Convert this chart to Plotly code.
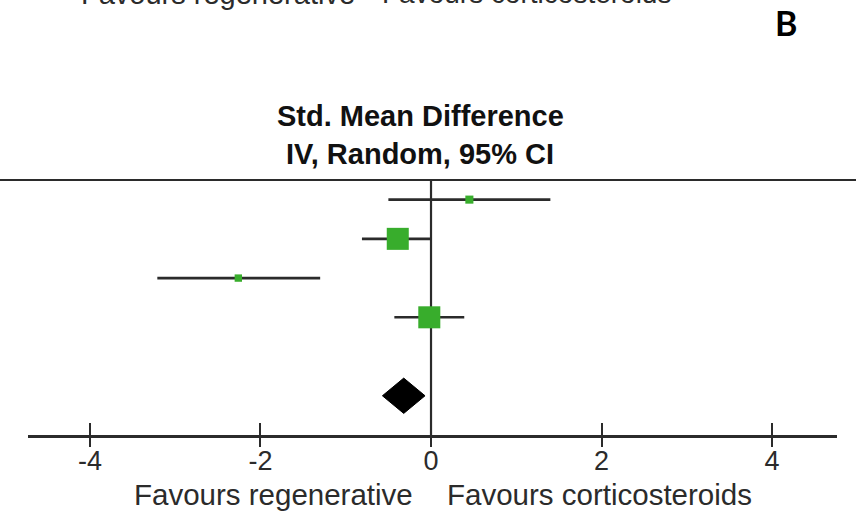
import plotly.graph_objects as go

# Study-level standardised mean differences (IV, random effects, 95% CI)
studies = ["Study 1", "Study 2", "Study 3", "Study 4"]
smd = [0.45, -0.39, -2.26, -0.02]
ci_low = [-0.50, -0.81, -3.21, -0.43]
ci_high = [1.40, -0.01, -1.30, 0.39]
weights = [6.0, 44.5, 5.0, 44.5]  # percent weight of each study

# Pooled estimate
pooled_smd = -0.32
pooled_low = -0.57
pooled_high = -0.07

tick_values = [-4, -2, 0, 2, 4]
tick_labels = ["-4", "-2", "0", "2", "4"]

GREEN = "#38ad2c"
INK = "#2b2b2b"
TEXT_FONT = "Liberation Sans, Arial, sans-serif"

rows = list(range(1, len(studies) + 1))
pooled_row = len(studies) + 2

fig = go.Figure()

# Confidence intervals with weight-scaled squares
fig.add_trace(go.Scatter(
    x=smd,
    y=rows,
    mode="markers",
    marker=dict(symbol="square", color=GREEN, opacity=1,
                size=[3.3 * w ** 0.5 for w in weights],
                line=dict(width=0)),
    error_x=dict(type="data", symmetric=False,
                 array=[h - m for h, m in zip(ci_high, smd)],
                 arrayminus=[m - l for m, l in zip(smd, ci_low)],
                 color=INK, thickness=2.6, width=0),
    hoverinfo="skip",
    showlegend=False,
))

# Pooled diamond
half_h = 0.45
fig.add_trace(go.Scatter(
    x=[pooled_low, pooled_smd, pooled_high, pooled_smd, pooled_low],
    y=[pooled_row, pooled_row - half_h, pooled_row, pooled_row + half_h, pooled_row],
    mode="lines",
    fill="toself",
    fillcolor="#000000",
    line=dict(color="#000000", width=1),
    hoverinfo="skip",
    showlegend=False,
))

# Helper trace so the overlaid tick axis is drawn
fig.add_trace(go.Scatter(x=[0], y=[rows[0]], xaxis="x2", mode="markers",
                         marker=dict(opacity=0), hoverinfo="skip",
                         showlegend=False))

W, H = 856, 511
L, R, T, B = 28, 19, 180, 76
pw, ph = W - L - R, H - T - B


def px(xp):
    return (xp - L) / pw


def py(yp):
    return (H - B - yp) / ph


x_range = [-4.727, 4.762]

axis_common = dict(range=x_range, showgrid=False, zeroline=False,
                   tickvals=tick_values)

fig.update_layout(
    width=W, height=H,
    margin=dict(l=L, r=R, t=T, b=B, pad=0),
    paper_bgcolor="white",
    plot_bgcolor="white",
    xaxis=dict(**axis_common, ticktext=tick_labels,
               showline=True, linecolor=INK, linewidth=2.5,
               ticks="inside", ticklen=12, tickwidth=2, tickcolor=INK,
               tickfont=dict(family=TEXT_FONT, size=27, color=INK)),
    xaxis2=dict(**axis_common, overlaying="x", anchor="y", side="bottom",
                showline=False, showticklabels=False,
                ticks="outside", ticklen=11, tickwidth=2, tickcolor=INK),
    yaxis=dict(range=[7.0, 0.5], visible=False, showgrid=False,
               zeroline=False),
    shapes=[
        # line of no effect
        dict(type="line", xref="x", yref="paper", x0=0, x1=0, y0=0, y1=1,
             line=dict(color=INK, width=2.2), layer="below"),
        # header rule
        dict(type="line", xref="paper", yref="paper",
             x0=px(0), x1=px(W), y0=1, y1=1,
             line=dict(color=INK, width=2.2)),
    ],
    annotations=[
        dict(text="<b>Std. Mean Difference</b>", xref="paper", yref="paper",
             x=px(420), y=py(116), xanchor="center", yanchor="middle",
             showarrow=False,
             font=dict(family=TEXT_FONT, size=29, color="#111111")),
        dict(text="<b>IV, Random, 95% CI</b>", xref="paper", yref="paper",
             x=px(420), y=py(154), xanchor="center", yanchor="middle",
             showarrow=False,
             font=dict(family=TEXT_FONT, size=29, color="#111111")),
        dict(text="Favours regenerative", xref="x", yref="paper",
             x=-0.19, y=py(494), xanchor="right", yanchor="middle",
             showarrow=False,
             font=dict(family=TEXT_FONT, size=29.5, color=INK)),
        dict(text="Favours corticosteroids", xref="x", yref="paper",
             x=0.16, y=py(494), xanchor="left", yanchor="middle",
             showarrow=False,
             font=dict(family=TEXT_FONT, size=29.5, color=INK)),
        # axis captions of the panel above, cut by the frame
        dict(text="Favours regenerative", xref="paper", yref="paper",
             x=px(357), y=py(-6), xanchor="right", yanchor="middle",
             showarrow=False,
             font=dict(family=TEXT_FONT, size=29, color=INK)),
        dict(text="Favours corticosteroids", xref="paper", yref="paper",
             x=px(380), y=py(-6), xanchor="left", yanchor="middle",
             showarrow=False,
             font=dict(family=TEXT_FONT, size=28, color=INK)),
        # panel letter
        dict(text="<b>B</b>", xref="paper", yref="paper",
             x=px(786), y=py(22), xanchor="center", yanchor="middle",
             showarrow=False,
             font=dict(family="Lato, Open Sans, sans-serif", size=34,
                       color="#000000")),
    ],
)

fig.write_html("out.html")
